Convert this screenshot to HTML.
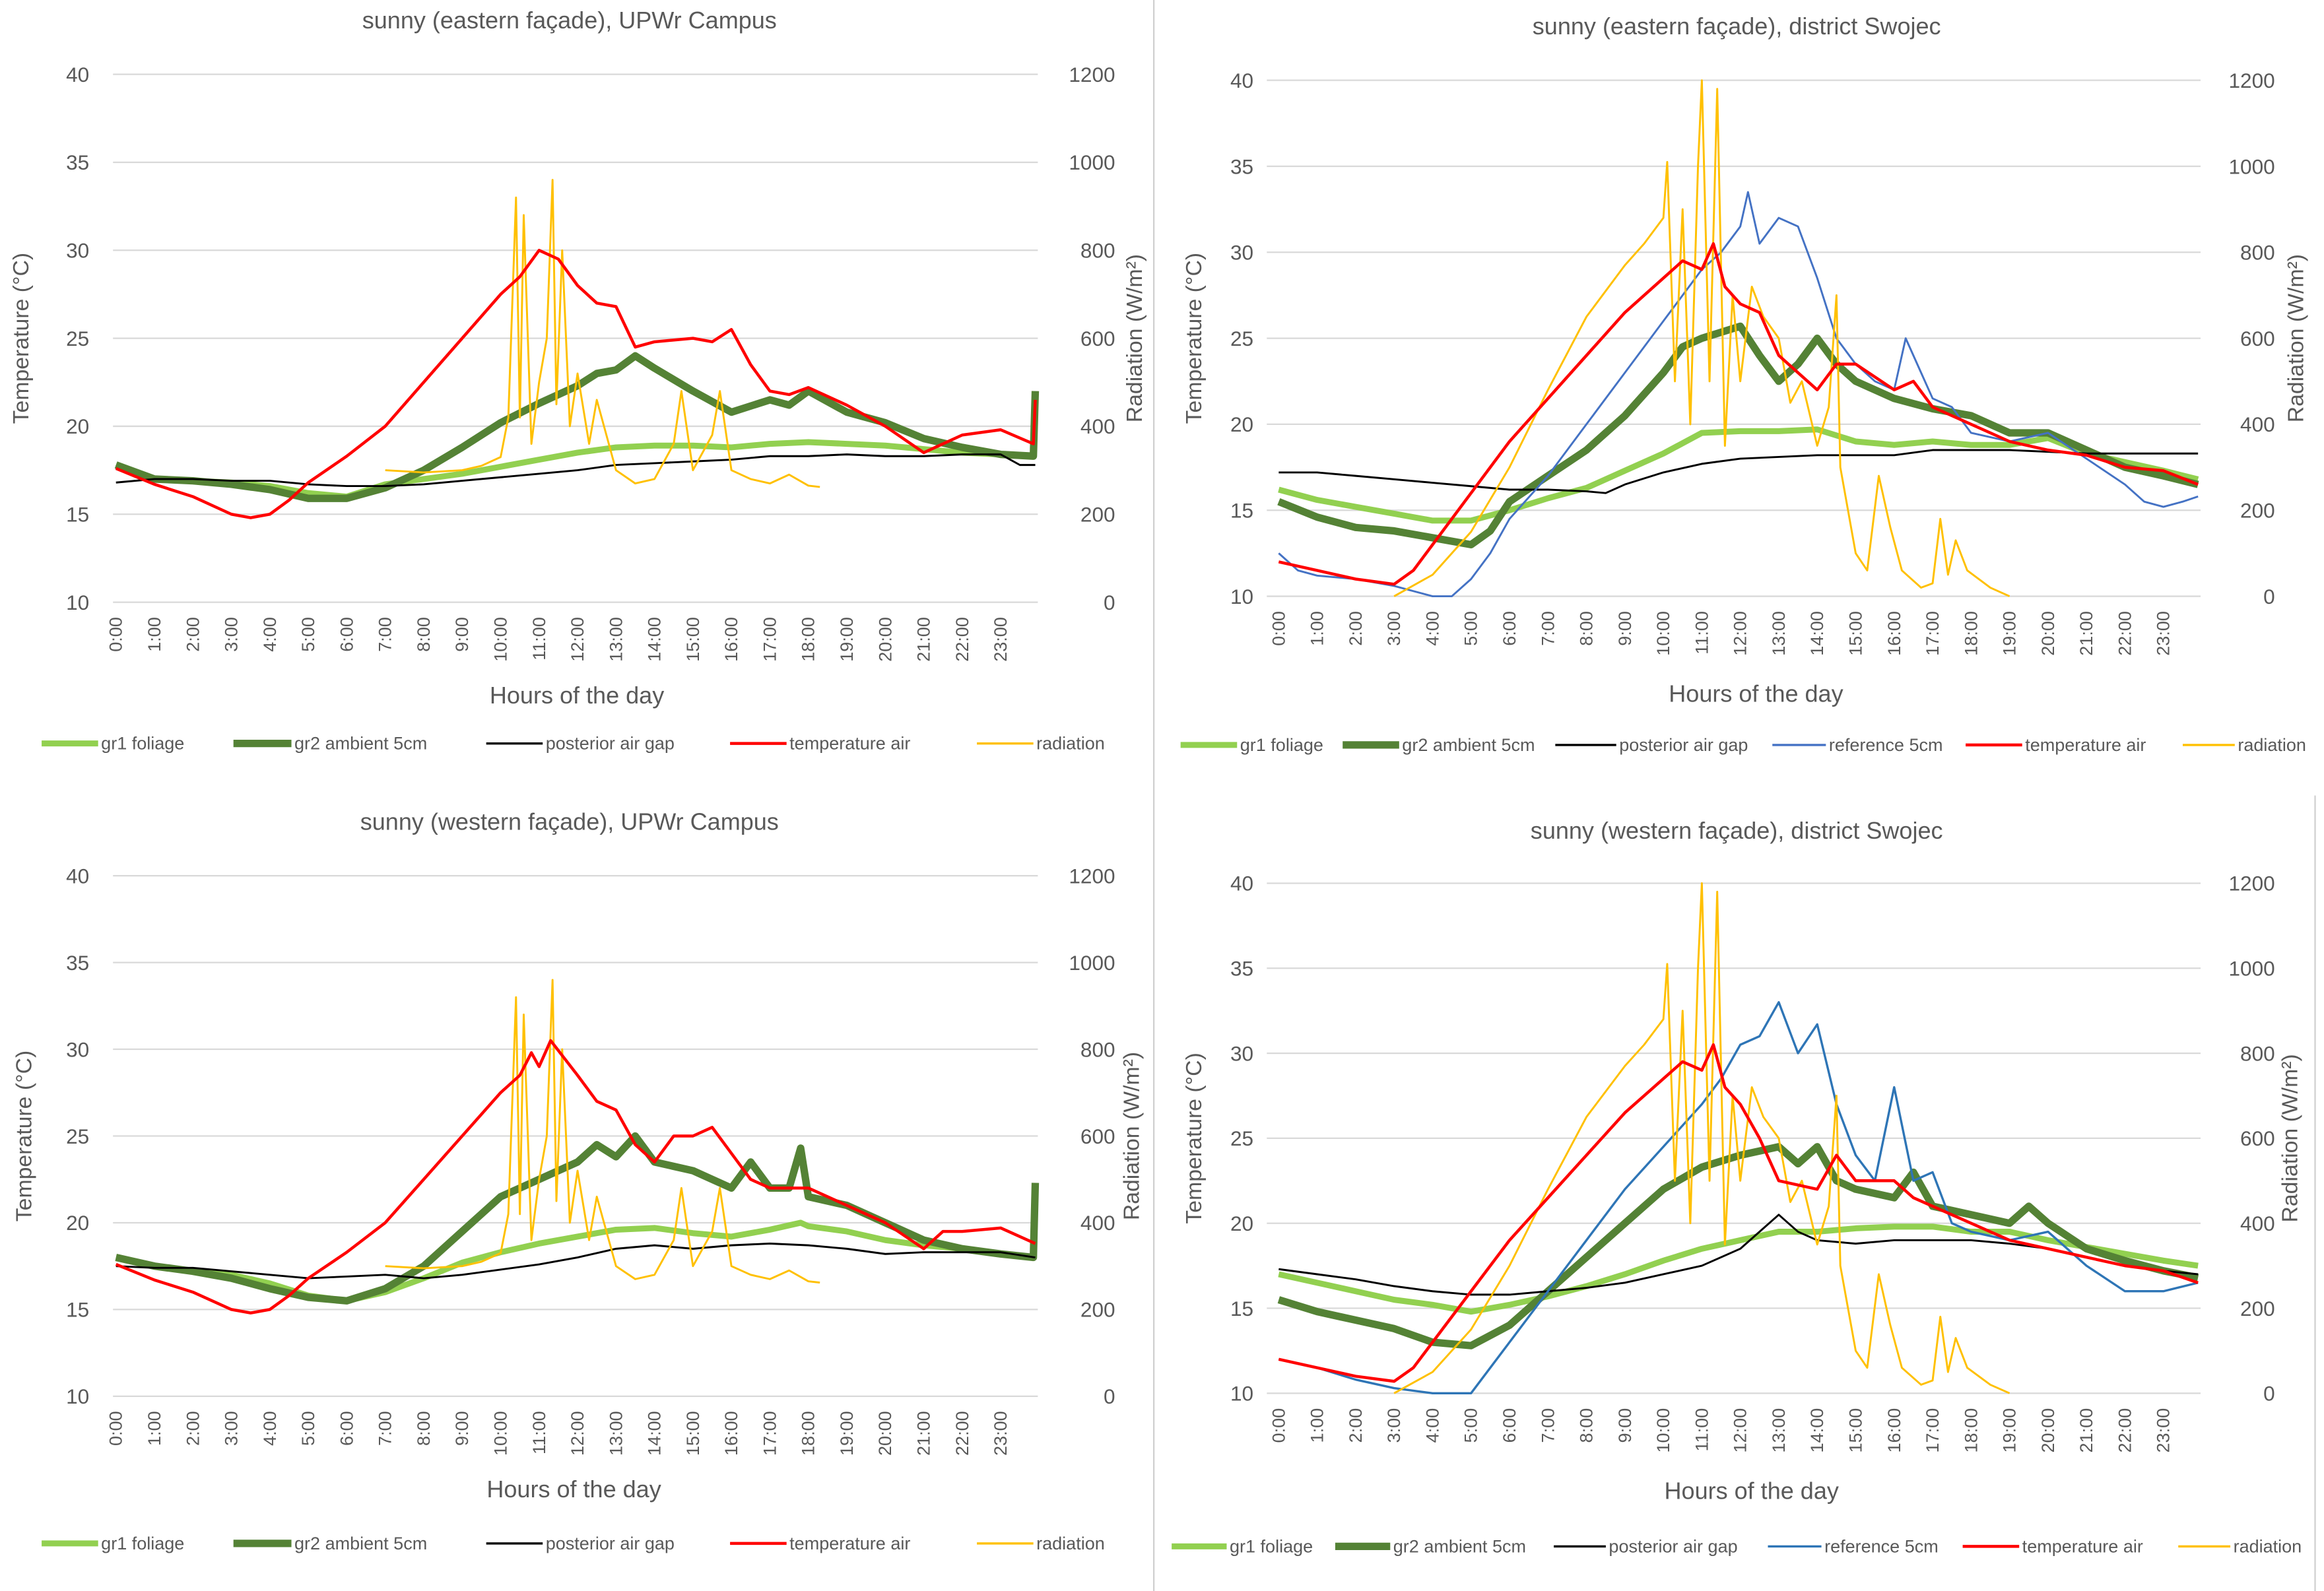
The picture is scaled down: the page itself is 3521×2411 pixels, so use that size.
<!DOCTYPE html>
<html><head><meta charset="utf-8"><style>
html,body{margin:0;padding:0;background:#fff;}
svg{display:block;}
text{font-family:"Liberation Sans",sans-serif;fill:#595959;}
</style></head><body>
<svg id="fig" width="3521" height="2411" viewBox="0 0 1563 1070" preserveAspectRatio="none" xmlns="http://www.w3.org/2000/svg">
<rect x="0" y="0" width="1563" height="1070" fill="#fff"/>
<line x1="776" y1="0" x2="776" y2="1070" stroke="#d0d0d0" stroke-width="1"/>
<line x1="1557" y1="535" x2="1557" y2="1070" stroke="#d0d0d0" stroke-width="1"/>
</svg>
<script>
// ---------- Chart 1: eastern façade, UPWr Campus ----------
const c1Gr1 = [[0,17.8],[1,17.0],[2,16.9],[3,16.8],[4,16.6],[5,16.2],[6,16.0],[7,16.7],[8,17.0],[9,17.3],[10,17.7],[11,18.1],[12,18.5],[13,18.8],[14,18.9],[15,18.9],[16,18.8],[17,19.0],[18,19.1],[19,19.0],[20,18.9],[21,18.7],[22,18.5],[23,18.4],[23.9,18.3]];
const c1Gr2 = [[0,17.8],[1,17.0],[2,16.9],[3,16.7],[4,16.4],[5,15.9],[6,15.9],[7,16.5],[8,17.5],[9,18.8],[10,20.2],[11,21.3],[12,22.3],[12.5,23.0],[13,23.2],[13.5,24.0],[14,23.3],[15,22.0],[16,20.8],[17,21.5],[17.5,21.2],[18,22.0],[19,20.8],[20,20.2],[21,19.3],[22,18.8],[23,18.4],[23.85,18.3],[23.9,22.0]];
const c1Post = [[0,16.8],[1,17.0],[2,17.0],[3,16.9],[4,16.9],[5,16.7],[6,16.6],[7,16.6],[8,16.7],[9,16.9],[10,17.1],[11,17.3],[12,17.5],[13,17.8],[14,17.9],[15,18.0],[16,18.1],[17,18.3],[18,18.3],[19,18.4],[20,18.3],[21,18.3],[22,18.4],[23,18.4],[23.5,17.8],[23.9,17.8]];
const c1Air = [[0,17.6],[1,16.7],[2,16.0],[3,15.0],[3.5,14.8],[4,15.0],[4.5,15.8],[5,16.8],[6,18.3],[7,20.0],[8,22.5],[9,25.0],[10,27.5],[10.5,28.5],[11,30.0],[11.5,29.5],[12,28.0],[12.5,27.0],[13,26.8],[13.5,24.5],[14,24.8],[15,25.0],[15.5,24.8],[16,25.5],[16.5,23.5],[17,22.0],[17.5,21.8],[18,22.2],[19,21.2],[20,20.0],[21,18.5],[21.5,19.0],[22,19.5],[23,19.8],[23.85,19.0],[23.9,21.5]];
const c1Rad = [[7,300],[8,295],[9,300],[9.5,310],[10,330],[10.2,420],[10.4,920],[10.5,420],[10.6,880],[10.8,360],[11,500],[11.2,600],[11.35,960],[11.45,450],[11.6,800],[11.8,400],[12,520],[12.3,360],[12.5,460],[13,300],[13.5,270],[14,280],[14.5,360],[14.7,480],[15,300],[15.5,380],[15.7,480],[16,300],[16.5,280],[17,270],[17.5,290],[18,265],[18.3,262]];
// ---------- Chart 2: eastern façade, Swojec ----------
const c2Gr1 = [[0,16.2],[1,15.6],[2,15.2],[3,14.8],[4,14.4],[5,14.4],[6,15.0],[7,15.7],[8,16.3],[9,17.3],[10,18.3],[11,19.5],[12,19.6],[13,19.6],[14,19.7],[15,19.0],[16,18.8],[17,19.0],[18,18.8],[19,18.8],[20,19.2],[21,18.3],[22,17.8],[23,17.3],[23.9,16.8]];
const c2Gr2 = [[0,15.5],[1,14.6],[2,14.0],[3,13.8],[4,13.4],[5,13.0],[5.5,13.8],[6,15.5],[7,17.0],[8,18.5],[9,20.5],[10,23.0],[10.5,24.5],[11,25.0],[12,25.7],[12.5,24.0],[13,22.5],[13.5,23.5],[14,25.0],[14.5,23.5],[15,22.5],[16,21.5],[17,20.9],[18,20.5],[19,19.5],[20,19.5],[21,18.5],[22,17.5],[23,17.0],[23.9,16.5]];
const c2Post = [[0,17.2],[1,17.2],[2,17.0],[3,16.8],[4,16.6],[5,16.4],[6,16.2],[7,16.2],[8,16.1],[8.5,16.0],[9,16.5],[10,17.2],[11,17.7],[12,18.0],[13,18.1],[14,18.2],[15,18.2],[16,18.2],[17,18.5],[18,18.5],[19,18.5],[20,18.4],[21,18.3],[22,18.3],[23,18.3],[23.9,18.3]];
const c2Ref = [[0,12.5],[0.5,11.5],[1,11.2],[2,11.0],[3,10.6],[3.5,10.3],[4,10.0],[4.5,10.0],[5,11.0],[5.5,12.5],[6,14.5],[7,17.0],[8,20.0],[9,23.0],[10,26.0],[10.5,27.5],[11,29.0],[11.5,30.0],[12,31.5],[12.2,33.5],[12.5,30.5],[13,32.0],[13.5,31.5],[14,28.5],[14.5,25.0],[15,23.5],[15.5,22.5],[16,22.0],[16.3,25.0],[16.7,23.0],[17,21.5],[17.5,21.0],[18,19.5],[19,19.0],[20,19.5],[21,18.0],[22,16.5],[22.5,15.5],[23,15.2],[23.5,15.5],[23.9,15.8]];
const c2Air = [[0,12.0],[1,11.5],[2,11.0],[3,10.7],[3.5,11.5],[4,13.0],[5,16.0],[6,19.0],[7,21.5],[8,24.0],[9,26.5],[10,28.5],[10.5,29.5],[11,29.0],[11.3,30.5],[11.6,28.0],[12,27.0],[12.5,26.5],[13,24.0],[14,22.0],[14.5,23.5],[15,23.5],[16,22.0],[16.5,22.5],[17,21.0],[18,20.0],[19,19.0],[20,18.5],[21,18.2],[22,17.5],[23,17.3],[23.9,16.5]];
const c2Rad = [[3,0],[4,50],[5,150],[6,300],[7,480],[8,650],[9,770],[9.5,820],[10,880],[10.1,1010],[10.3,500],[10.5,900],[10.7,400],[10.9,1000],[11.0,1200],[11.2,500],[11.4,1180],[11.6,350],[11.8,700],[12,500],[12.3,720],[12.6,650],[13,600],[13.3,450],[13.6,500],[14,350],[14.3,440],[14.5,700],[14.6,300],[14.8,200],[15,100],[15.3,60],[15.6,280],[15.9,160],[16.2,60],[16.7,20],[17,30],[17.2,180],[17.4,50],[17.6,130],[17.9,60],[18.5,20],[19,0]];
// ---------- Chart 3: western façade, UPWr Campus ----------
const c3Gr1 = [[0,18.0],[1,17.5],[2,17.2],[3,17.0],[4,16.5],[5,15.8],[6,15.5],[7,16.0],[8,16.8],[9,17.7],[10,18.3],[11,18.8],[12,19.2],[13,19.6],[14,19.7],[15,19.4],[16,19.2],[17,19.6],[17.8,20.0],[18,19.8],[19,19.5],[20,19.0],[21,18.7],[22,18.5],[23,18.2],[23.9,18.0]];
const c3Gr2 = [[0,18.0],[1,17.5],[2,17.2],[3,16.8],[4,16.2],[5,15.7],[6,15.5],[7,16.2],[8,17.5],[9,19.5],[10,21.5],[11,22.5],[12,23.5],[12.5,24.5],[13,23.8],[13.5,25.0],[14,23.5],[15,23.0],[16,22.0],[16.5,23.5],[17,22.0],[17.5,22.0],[17.8,24.3],[18,21.5],[19,21.0],[20,20.0],[21,19.0],[22,18.5],[23,18.2],[23.85,18.0],[23.9,22.3]];
const c3Post = [[0,17.5],[1,17.4],[2,17.4],[3,17.2],[4,17.0],[5,16.8],[6,16.9],[7,17.0],[8,16.8],[9,17.0],[10,17.3],[11,17.6],[12,18.0],[13,18.5],[14,18.7],[15,18.5],[16,18.7],[17,18.8],[18,18.7],[19,18.5],[20,18.2],[21,18.3],[22,18.3],[23,18.3],[23.9,18.0]];
const c3Air = [[0,17.6],[1,16.7],[2,16.0],[3,15.0],[3.5,14.8],[4,15.0],[4.5,15.8],[5,16.8],[6,18.3],[7,20.0],[8,22.5],[9,25.0],[10,27.5],[10.5,28.5],[10.8,29.8],[11,29.0],[11.3,30.5],[12,28.5],[12.5,27.0],[13,26.5],[13.5,24.5],[14,23.5],[14.5,25.0],[15,25.0],[15.5,25.5],[16,24.0],[16.5,22.5],[17,22.0],[18,22.0],[19,21.0],[20,20.0],[21,18.5],[21.5,19.5],[22,19.5],[23,19.7],[23.9,18.8]];
const c3Rad = [[7,300],[8,295],[9,300],[9.5,310],[10,330],[10.2,420],[10.4,920],[10.5,420],[10.6,880],[10.8,360],[11,500],[11.2,600],[11.35,960],[11.45,450],[11.6,800],[11.8,400],[12,520],[12.3,360],[12.5,460],[13,300],[13.5,270],[14,280],[14.5,360],[14.7,480],[15,300],[15.5,380],[15.7,480],[16,300],[16.5,280],[17,270],[17.5,290],[18,265],[18.3,262]];
// ---------- Chart 4: western façade, Swojec ----------
const c4Gr1 = [[0,17.0],[1,16.5],[2,16.0],[3,15.5],[4,15.2],[5,14.8],[6,15.2],[7,15.7],[8,16.3],[9,17.0],[10,17.8],[11,18.5],[12,19.0],[13,19.5],[14,19.5],[15,19.7],[16,19.8],[17,19.8],[18,19.5],[19,19.5],[20,19.0],[21,18.6],[22,18.2],[23,17.8],[23.9,17.5]];
const c4Gr2 = [[0,15.5],[1,14.8],[2,14.3],[3,13.8],[4,13.0],[5,12.8],[6,14.0],[7,16.0],[8,18.0],[9,20.0],[10,22.0],[11,23.3],[12,24.0],[13,24.5],[13.5,23.5],[14,24.5],[14.5,22.5],[15,22.0],[16,21.5],[16.5,23.0],[17,21.0],[18,20.5],[19,20.0],[19.5,21.0],[20,20.0],[21,18.5],[22,17.8],[23,17.2],[23.9,16.8]];
const c4Post = [[0,17.3],[1,17.0],[2,16.7],[3,16.3],[4,16.0],[5,15.8],[6,15.8],[7,16.0],[8,16.2],[9,16.5],[10,17.0],[11,17.5],[12,18.5],[13,20.5],[13.5,19.5],[14,19.0],[15,18.8],[16,19.0],[17,19.0],[18,19.0],[19,18.8],[20,18.5],[21,18.0],[22,17.5],[23,17.2],[23.9,17.0]];
const c4Ref = [[0,12.0],[1,11.5],[2,10.8],[3,10.3],[4,10.0],[5,10.0],[5.5,11.5],[6,13.0],[7,16.0],[8,19.0],[9,22.0],[10,24.5],[11,27.0],[11.5,28.5],[12,30.5],[12.5,31.0],[13,33.0],[13.5,30.0],[14,31.7],[14.5,27.0],[15,24.0],[15.5,22.5],[16,28.0],[16.5,22.5],[17,23.0],[17.5,20.0],[18,19.5],[19,19.0],[20,19.5],[21,17.5],[22,16.0],[23,16.0],[23.9,16.5]];
const c4Air = [[0,12.0],[1,11.5],[2,11.0],[3,10.7],[3.5,11.5],[4,13.0],[5,16.0],[6,19.0],[7,21.5],[8,24.0],[9,26.5],[10,28.5],[10.5,29.5],[11,29.0],[11.3,30.5],[11.6,28.0],[12,27.0],[12.5,25.0],[13,22.5],[14,22.0],[14.5,24.0],[15,22.5],[16,22.5],[16.5,21.5],[17,21.0],[18,20.0],[19,19.0],[20,18.5],[21,18.0],[22,17.5],[23,17.2],[23.9,16.5]];
const c4Rad = [[3,0],[4,50],[5,150],[6,300],[7,480],[8,650],[9,770],[9.5,820],[10,880],[10.1,1010],[10.3,500],[10.5,900],[10.7,400],[10.9,1000],[11.0,1200],[11.2,500],[11.4,1180],[11.6,350],[11.8,700],[12,500],[12.3,720],[12.6,650],[13,600],[13.3,450],[13.6,500],[14,350],[14.3,440],[14.5,700],[14.6,300],[14.8,200],[15,100],[15.3,60],[15.6,280],[15.9,160],[16.2,60],[16.7,20],[17,30],[17.2,180],[17.4,50],[17.6,130],[17.9,60],[18.5,20],[19,0]];

const tempTicks = [10,15,20,25,30,35,40];
const radTicks = [0,200,400,600,800,1000,1200];
const hourLabels = ["0:00","1:00","2:00","3:00","4:00","5:00","6:00","7:00","8:00","9:00","10:00","11:00","12:00","13:00","14:00","15:00","16:00","17:00","18:00","19:00","20:00","21:00","22:00","23:00"];

const NS = "http://www.w3.org/2000/svg";
const svg = document.getElementById('fig');
function mk(tag, attrs, parent){const e=document.createElementNS(NS,tag);for(const k in attrs)e.setAttribute(k,attrs[k]);(parent||svg).appendChild(e);return e;}

const COL = {gr1:'#92d050',gr2:'#548235',post:'#000000',ref1:'#4472c4',ref2:'#2e75b6',air:'#ff0000',rad:'#ffc000'};

function drawChart(id, g, title, series, legend){
  const grp = mk('g',{});
  
  
  const xs = h => g.x0 + h*(g.x23-g.x0)/23;
  const yT = t => g.yb - (t-10)*(g.yb-g.yt)/30;
  const yR = r => g.yb - r*(g.yb-g.yt)/1200;
  const t = mk('text',{x:g.tx,y:g.ty,'font-size':16,'text-anchor':'middle'},grp); t.textContent=title;
  
  
  tempTicks.forEach(v=>{
    const l=mk('line',{x1:g.gl,x2:g.gr,y1:yT(v),y2:yT(v),stroke:'#d9d9d9','stroke-width':1},grp);
    
    
    const tx=mk('text',{x:g.ll,y:yT(v)+5,'font-size':14,'text-anchor':'end'},grp); tx.textContent=v;
    
    
  });
  radTicks.forEach(v=>{
    const tx=mk('text',{x:g.rl,y:yR(v)+5,'font-size':14,'text-anchor':'end'},grp); tx.textContent=v;
    
    
  });
  hourLabels.forEach((h,i)=>{
    const x=xs(i)+4, y=g.yb+10;
    const tx=mk('text',{x:x,y:y,'font-size':12,'text-anchor':'end',transform:`rotate(-90 ${x} ${y})`},grp); tx.textContent=h;
    
    
  });
  const xt=mk('text',{x:g.xtx,y:g.xty,'font-size':16,'text-anchor':'middle'},grp); xt.textContent='Hours of the day';
  
  
  const yc=(g.yt+g.yb)/2;
  const yl=mk('text',{x:g.ylx,y:yc,'font-size':15,'text-anchor':'middle',transform:`rotate(-90 ${g.ylx} ${yc})`},grp); yl.textContent='Temperature  (°C)';
  
  
  const yr=mk('text',{x:g.yrx,y:yc,'font-size':15,'text-anchor':'middle',transform:`rotate(-90 ${g.yrx} ${yc})`},grp); yr.textContent='Radiation (W/m²)';
  
  
  series.forEach(s=>{
    const d = s.data.map((p,i)=>(i?'L':'M')+xs(p[0]).toFixed(2)+' '+(s.rad?yR(p[1]):yT(p[1])).toFixed(2)).join(' ');
    const p=mk('path',{d:d,fill:'none',stroke:s.c,'stroke-width':s.w,'stroke-linejoin':'round'},grp);
    
    
  });
  legend.forEach(l=>{
    const ln=mk('line',{x1:l.a,x2:l.b,y1:g.ly,y2:g.ly,stroke:l.c,'stroke-width':l.w},grp);
    
    
    const tx=mk('text',{x:l.b+2,y:g.ly+4,'font-size':12},grp); tx.textContent=l.t;
    
    
  });
}

const L1 = ly=>[{a:28,b:66,c:COL.gr1,w:4,t:'gr1 foliage'},{a:157,b:196,c:COL.gr2,w:5,t:'gr2 ambient 5cm'},{a:327,b:365,c:COL.post,w:1.5,t:'posterior air gap'},{a:491,b:529,c:COL.air,w:2,t:'temperature air'},{a:657,b:695,c:COL.rad,w:1.5,t:'radiation'}];

drawChart('chart-east-upwr',{x0:78,x23:673,gl:76,gr:698,yt:50,yb:405,ll:60,rl:750,tx:383,ty:19,xtx:388,xty:473,ylx:19,yrx:768,ly:500},
 'sunny (eastern façade), UPWr Campus',
 [{name:'series-gr1-foliage',data:c1Gr1,c:COL.gr1,w:4},{name:'series-gr2-ambient',data:c1Gr2,c:COL.gr2,w:5},{name:'series-posterior-air-gap',data:c1Post,c:COL.post,w:1.3},{name:'series-radiation',data:c1Rad,c:COL.rad,w:1.3,rad:true},{name:'series-temperature-air',data:c1Air,c:COL.air,w:2}],
 L1());

drawChart('chart-east-swojec',{x0:860,x23:1455,gl:852,gr:1480,yt:54,yb:401,ll:843,rl:1530,tx:1168,ty:23,xtx:1181,xty:472,ylx:808,yrx:1549,ly:501},
 'sunny (eastern façade), district Swojec',
 [{name:'series-gr1-foliage',data:c2Gr1,c:COL.gr1,w:4},{name:'series-gr2-ambient',data:c2Gr2,c:COL.gr2,w:5},{name:'series-posterior-air-gap',data:c2Post,c:COL.post,w:1.3},{name:'series-reference-5cm',data:c2Ref,c:COL.ref1,w:1.3},{name:'series-radiation',data:c2Rad,c:COL.rad,w:1.3,rad:true},{name:'series-temperature-air',data:c2Air,c:COL.air,w:2}],
 [{a:794,b:832,c:COL.gr1,w:4,t:'gr1 foliage'},{a:903,b:941,c:COL.gr2,w:5,t:'gr2 ambient 5cm'},{a:1046,b:1087,c:COL.post,w:1.5,t:'posterior air gap'},{a:1192,b:1228,c:COL.ref1,w:1.5,t:'reference 5cm'},{a:1322,b:1360,c:COL.air,w:2,t:'temperature air'},{a:1468,b:1503,c:COL.rad,w:1.5,t:'radiation'}]);

drawChart('chart-west-upwr',{x0:78,x23:673,gl:76,gr:698,yt:589,yb:939,ll:60,rl:750,tx:383,ty:558,xtx:386,xty:1007,ylx:21,yrx:766,ly:1038},
 'sunny (western façade), UPWr Campus',
 [{name:'series-gr1-foliage',data:c3Gr1,c:COL.gr1,w:4},{name:'series-gr2-ambient',data:c3Gr2,c:COL.gr2,w:5},{name:'series-posterior-air-gap',data:c3Post,c:COL.post,w:1.3},{name:'series-radiation',data:c3Rad,c:COL.rad,w:1.3,rad:true},{name:'series-temperature-air',data:c3Air,c:COL.air,w:2}],
 L1());

drawChart('chart-west-swojec',{x0:860,x23:1455,gl:852,gr:1480,yt:594,yb:937,ll:843,rl:1530,tx:1168,ty:564,xtx:1178,xty:1008,ylx:808,yrx:1545,ly:1040},
 'sunny (western façade), district Swojec',
 [{name:'series-gr1-foliage',data:c4Gr1,c:COL.gr1,w:4},{name:'series-gr2-ambient',data:c4Gr2,c:COL.gr2,w:5},{name:'series-posterior-air-gap',data:c4Post,c:COL.post,w:1.3},{name:'series-reference-5cm',data:c4Ref,c:COL.ref2,w:1.5},{name:'series-radiation',data:c4Rad,c:COL.rad,w:1.3,rad:true},{name:'series-temperature-air',data:c4Air,c:COL.air,w:2}],
 [{a:788,b:825,c:COL.gr1,w:4,t:'gr1 foliage'},{a:898,b:935,c:COL.gr2,w:5,t:'gr2 ambient 5cm'},{a:1045,b:1080,c:COL.post,w:1.5,t:'posterior air gap'},{a:1189,b:1225,c:COL.ref2,w:1.5,t:'reference 5cm'},{a:1320,b:1358,c:COL.air,w:2,t:'temperature air'},{a:1465,b:1500,c:COL.rad,w:1.5,t:'radiation'}]);
</script>
</body></html>
